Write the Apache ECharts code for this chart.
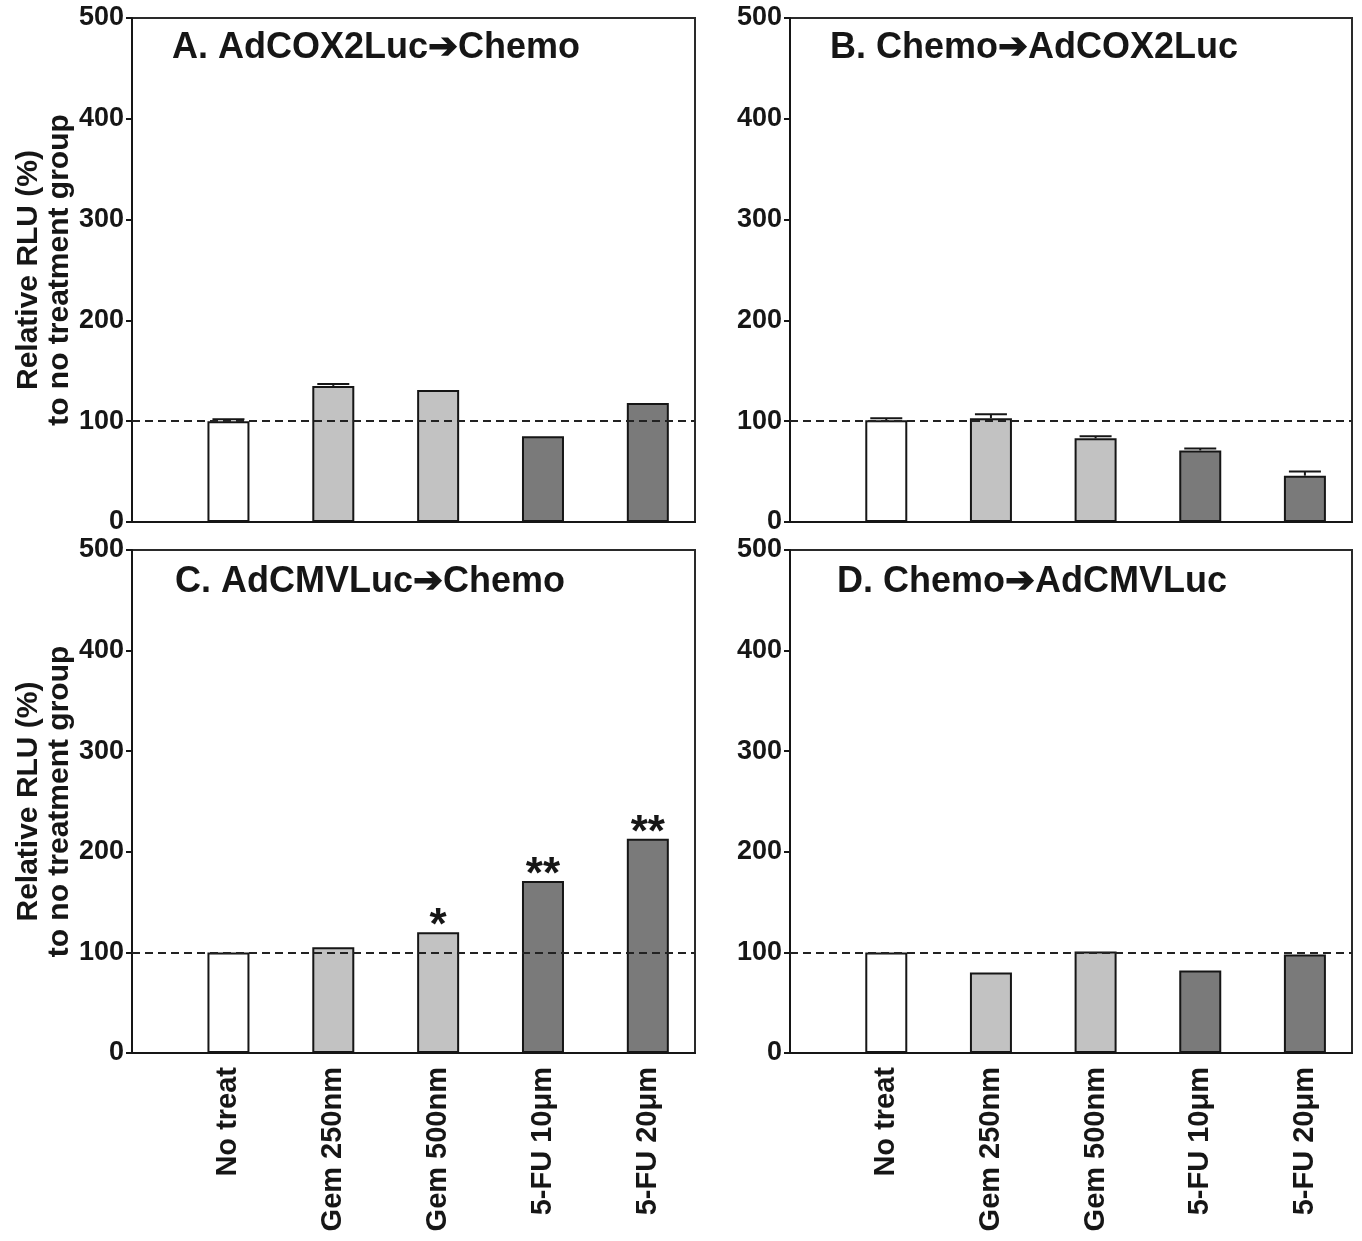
<!DOCTYPE html>
<html>
<head>
<meta charset="utf-8">
<script src="https://cdn.jsdelivr.net/npm/echarts@6/dist/echarts.min.js"></script>
<style>
  html, body { margin: 0; padding: 0; background: #ffffff; }
  #chart { width: 1362px; height: 1241px; }
</style>
</head>
<body>
<div id="chart"></div>
<script>
// ---------- data ----------
const categories = ['No treat', 'Gem 250nm', 'Gem 500nm', '5-FU 10\u03bcm', '5-FU 20\u03bcm'];
const yTicks = [0, 100, 200, 300, 400, 500];
const referenceLevel = 100;

const panelTitles = [
  'A. AdCOX2Luc\u2794Chemo',
  'B. Chemo\u2794AdCOX2Luc',
  'C. AdCMVLuc\u2794Chemo',
  'D. Chemo\u2794AdCMVLuc'
];

const valuesA = [100, 135, 131, 85, 118];
const errorsA = [2, 2, 0, 0, 0];
const valuesB = [101, 103, 83, 71, 46];
const errorsB = [2, 4, 2, 2, 4];
const valuesC = [100, 105, 120, 171, 213];
const errorsC = [0, 0, 0, 0, 0];
const valuesD = [100, 80, 101, 82, 98];
const errorsD = [0, 0, 0, 0, 0];

const starsA = ['', '', '', '', ''];
const starsB = ['', '', '', '', ''];
const starsC = ['', '', '*', '**', '**'];
const starsD = ['', '', '', '', ''];

const yAxisName = 'Relative RLU (%)\nto no treatment group';

// ---------- styles ----------
const barColors = ['#ffffff', '#c2c2c2', '#c2c2c2', '#7a7a7a', '#7a7a7a'];
const FONT = '"Liberation Sans", Arial, Helvetica, sans-serif';
const INK = '#161616';

const panels = [
  { values: valuesA, errors: errorsA, stars: starsA, left: 132, top: 18, width: 563, height: 504, showName: true },
  { values: valuesB, errors: errorsB, stars: starsB, left: 790, top: 18, width: 562, height: 504, showName: false },
  { values: valuesC, errors: errorsC, stars: starsC, left: 132, top: 550, width: 563, height: 503, showName: true },
  { values: valuesD, errors: errorsD, stars: starsD, left: 790, top: 550, width: 562, height: 503, showName: false }
];

const titleOffsets = [
  { left: 172, top: 30 },
  { left: 830, top: 30 },
  { left: 175, top: 564 },
  { left: 837, top: 564 }
];

const grids = [], xAxes = [], yAxes = [], series = [], titles = [];

panels.forEach((p, k) => {
  grids.push({
    left: p.left, top: p.top, width: p.width, height: p.height,
    show: true, borderColor: '#2a2a2a', borderWidth: 2, backgroundColor: 'transparent'
  });
  xAxes.push({
    gridIndex: k, type: 'value', min: -0.92, max: 4.45,
    axisLine: { show: true, onZero: false, lineStyle: { color: INK, width: 2 } },
    axisTick: { show: false },
    splitLine: { show: false },
    axisLabel: {
      show: k >= 2,
      customValues: categories.map((c, i) => i),
      formatter: v => categories[Math.round(v)] || '',
      rotate: 90, margin: 14,
      fontFamily: FONT, fontWeight: 'bold', fontSize: 29, color: INK
    }
  });
  yAxes.push({
    gridIndex: k, type: 'value', min: yTicks[0], max: yTicks[yTicks.length - 1], interval: 100,
    axisLine: { show: true, onZero: false, lineStyle: { color: INK, width: 2 } },
    axisTick: { show: true, inside: false, length: 6, lineStyle: { color: INK, width: 2 } },
    splitLine: { show: false },
    axisLabel: { margin: 8, fontFamily: FONT, fontWeight: 'bold', fontSize: 27, color: INK },
    name: p.showName ? yAxisName : '',
    nameLocation: 'middle', nameRotate: 90, nameGap: 57,
    nameTextStyle: { fontFamily: FONT, fontWeight: 'bold', fontSize: 30, color: INK, lineHeight: 31, align: 'center' }
  });
  series.push({
    type: 'bar', xAxisIndex: k, yAxisIndex: k,
    barWidth: 42,
    data: p.values.map((v, i) => [i, v]),
    itemStyle: {
      color: params => barColors[params.dataIndex],
      borderColor: INK, borderWidth: 2
    },
    label: {
      show: true, position: 'top', distance: -17,
      formatter: params => p.stars[params.dataIndex],
      fontFamily: FONT, fontWeight: 'bold', fontSize: 44, color: INK
    },
    markLine: {
      silent: true, symbol: 'none', z: 10,
      label: { show: false },
      lineStyle: { color: '#222', width: 2, type: [8, 5] },
      data: [{ yAxis: referenceLevel }]
    },
    animation: false
  });
  series.push({
    type: 'custom', xAxisIndex: k, yAxisIndex: k, z: 4,
    data: p.values.map((v, i) => [i, v, v + p.errors[i], p.errors[i]]),
    renderItem: (params, api) => {
      if (api.value(3) <= 0) return null;
      const base = api.coord([api.value(0), api.value(1)]);
      const top = api.coord([api.value(0), api.value(2)]);
      const hw = 16;
      return {
        type: 'group',
        children: [
          { type: 'line', shape: { x1: base[0], y1: base[1], x2: top[0], y2: top[1] }, style: { stroke: INK, lineWidth: 2 } },
          { type: 'line', shape: { x1: top[0] - hw, y1: top[1], x2: top[0] + hw, y2: top[1] }, style: { stroke: INK, lineWidth: 2 } }
        ]
      };
    },
    animation: false
  });
  titles.push({
    text: panelTitles[k], left: titleOffsets[k].left, top: titleOffsets[k].top, padding: 0,
    textStyle: { fontFamily: FONT, fontWeight: 'bold', fontSize: 36, color: INK }
  });
});

const chart = echarts.init(document.getElementById('chart'), null, { renderer: 'canvas' });
chart.setOption({
  animation: false,
  backgroundColor: '#ffffff',
  title: titles,
  grid: grids,
  xAxis: xAxes,
  yAxis: yAxes,
  series: series
});
</script>
</body>
</html>
